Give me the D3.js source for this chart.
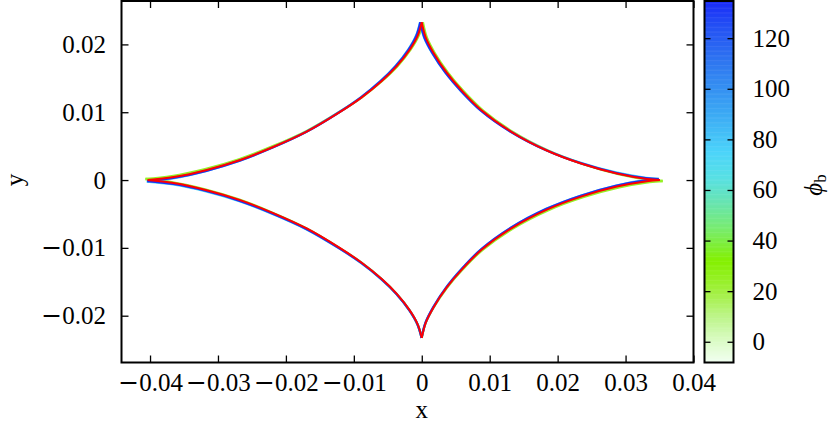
<!DOCTYPE html>
<html><head><meta charset="utf-8">
<script src="https://cdn.jsdelivr.net/npm/d3@7"></script>
<style>
body{margin:0;background:#fff}
text{font-family:"Liberation Serif","DejaVu Serif",serif;fill:#000}
</style>
</head><body>
<svg id="chart" width="830" height="422"></svg>
<script>
// ---------------- data ----------------
const xTicks = [-0.04,-0.03,-0.02,-0.01,0,0.01,0.02,0.03,0.04];
const yTicks = [-0.02,-0.01,0,0.01,0.02];
const cbTicks = [0,20,40,60,80,100,120];
const xDomain = [-0.0442, 0.0400];
const yDomain = [-0.0269, 0.0264];
const cbDomain = [-8.2, 134.7];
const paletteValues = [-8.2, 0, 10, 20, 32, 45, 55, 65, 75, 90, 110, 125, 134.7];
const paletteColors = ["#f2fff2","#dcfcc8","#bdf58a","#a2f040","#84f000","#78ec70","#68e4b0","#58e0e4","#4cd4fa","#3caaf4","#2f78f0","#2450f4","#1a2cf8"];
// caustic loop: left cusp -> top cusp -> right cusp -> bottom cusp -> left cusp
const cuspIndex = [0, 12, 23, 34, 46];
const seriesPhi = [25, 70, 134];
const causticPhi25 = [[-0.04068,0.00015],[-0.03681,0.00058],[-0.03190,0.00161],[-0.02692,0.00306],[-0.02200,0.00495],[-0.01701,0.00720],[-0.01209,0.01006],[-0.00881,0.01222],[-0.00583,0.01462],[-0.00358,0.01680],[-0.00165,0.01923],[-0.00045,0.02130],[0.00016,0.02327],
 [0.00074,0.02102],[0.00193,0.01869],[0.00385,0.01582],[0.00607,0.01318],[0.00904,0.01022],[0.01348,0.00703],[0.01868,0.00429],[0.02387,0.00231],[0.02908,0.00085],[0.03354,0.00004],[0.03547,-0.00013],
 [0.03354,-0.00028],[0.02907,-0.00107],[0.02386,-0.00249],[0.01865,-0.00443],[0.01343,-0.00713],[0.00896,-0.01028],[0.00597,-0.01322],[0.00373,-0.01584],[0.00179,-0.01871],[0.00059,-0.02102],[-0.00002,-0.02327],
 [-0.00061,-0.02130],[-0.00179,-0.01921],[-0.00371,-0.01678],[-0.00593,-0.01458],[-0.00890,-0.01216],[-0.01217,-0.00997],[-0.01707,-0.00708],[-0.02204,-0.00479],[-0.02694,-0.00286],[-0.03191,-0.00137],[-0.03682,-0.00030],[-0.04068,0.00015]];
const causticPhi70 = [[-0.04048,-0.00021],[-0.03665,0.00025],[-0.03180,0.00133],[-0.02688,0.00282],[-0.02203,0.00476],[-0.01711,0.00705],[-0.01226,0.00995],[-0.00903,0.01214],[-0.00610,0.01457],[-0.00390,0.01677],[-0.00200,0.01921],[-0.00083,0.02130],[-0.00025,0.02327],
 [0.00035,0.02102],[0.00154,0.01871],[0.00347,0.01585],[0.00569,0.01323],[0.00866,0.01030],[0.01308,0.00715],[0.01826,0.00446],[0.02342,0.00252],[0.02858,0.00111],[0.03301,0.00033],[0.03492,0.00018],
 [0.03301,0.00001],[0.02860,-0.00081],[0.02344,-0.00228],[0.01830,-0.00426],[0.01316,-0.00701],[0.00876,-0.01020],[0.00583,-0.01317],[0.00363,-0.01581],[0.00174,-0.01869],[0.00057,-0.02102],[-0.00001,-0.02327],
 [-0.00061,-0.02130],[-0.00180,-0.01923],[-0.00372,-0.01681],[-0.00594,-0.01463],[-0.00891,-0.01224],[-0.01216,-0.01007],[-0.01703,-0.00723],[-0.02198,-0.00498],[-0.02685,-0.00310],[-0.03178,-0.00165],[-0.03665,-0.00063],[-0.04048,-0.00021]];
const causticPhi134 = [[-0.04039,-0.00015],[-0.03657,0.00031],[-0.03172,0.00137],[-0.02681,0.00286],[-0.02196,0.00479],[-0.01705,0.00708],[-0.01221,0.00997],[-0.00899,0.01216],[-0.00605,0.01458],[-0.00385,0.01678],[-0.00196,0.01921],[-0.00079,0.02130],[-0.00021,0.02327],
 [0.00039,0.02102],[0.00158,0.01871],[0.00349,0.01584],[0.00571,0.01322],[0.00866,0.01028],[0.01308,0.00713],[0.01824,0.00443],[0.02338,0.00249],[0.02854,0.00107],[0.03295,0.00028],[0.03486,0.00013],
 [0.03295,-0.00004],[0.02855,-0.00085],[0.02340,-0.00231],[0.01827,-0.00429],[0.01313,-0.00703],[0.00874,-0.01022],[0.00581,-0.01318],[0.00361,-0.01582],[0.00172,-0.01869],[0.00055,-0.02102],[-0.00003,-0.02327],
 [-0.00063,-0.02130],[-0.00182,-0.01923],[-0.00373,-0.01680],[-0.00594,-0.01462],[-0.00890,-0.01222],[-0.01214,-0.01005],[-0.01700,-0.00720],[-0.02193,-0.00495],[-0.02679,-0.00306],[-0.03171,-0.00161],[-0.03657,-0.00058],[-0.04039,-0.00015]];
const causticReference = [[-0.04035,0],[-0.03652,0.00044],[-0.03166,0.00149],[-0.02673,0.00296],[-0.02187,0.00487],[-0.01694,0.00714],[-0.01208,0.01001],[-0.00884,0.01219],[-0.00589,0.01460],[-0.00368,0.01679],[-0.00177,0.01922],[-0.00059,0.02130],[0,0.02327],
 [0.00059,0.02102],[0.00177,0.01870],[0.00368,0.01583],[0.00589,0.01320],[0.00884,0.01025],[0.01325,0.00708],[0.01841,0.00436],[0.02356,0.00240],[0.02872,0.00096],[0.03314,0.00016],[0.03505,0],
 [0.03314,-0.00016],[0.02872,-0.00096],[0.02356,-0.00240],[0.01841,-0.00436],[0.01325,-0.00708],[0.00884,-0.01025],[0.00589,-0.01320],[0.00368,-0.01583],[0.00177,-0.01870],[0.00059,-0.02102],[0,-0.02327],
 [-0.00059,-0.02130],[-0.00177,-0.01922],[-0.00368,-0.01679],[-0.00589,-0.01460],[-0.00884,-0.01219],[-0.01208,-0.01001],[-0.01694,-0.00714],[-0.02187,-0.00487],[-0.02673,-0.00296],[-0.03166,-0.00149],[-0.03652,-0.00044],[-0.04035,0]];

// ---------------- layout ----------------
const FS = 25;
const plot = {left:121.5, right:693.5, top:1, bottom:362.5};
const cb = {left:704.5, right:733.5};
const svg = d3.select("#chart");

const x = d3.scaleLinear().domain(xDomain).range([plot.left, plot.right]);
const y = d3.scaleLinear().domain(yDomain).range([plot.bottom, plot.top]);
const cbY = d3.scaleLinear().domain(cbDomain).range([plot.bottom, plot.top]);
const color = d3.scaleLinear().domain(paletteValues).range(paletteColors).interpolate(d3.interpolateRgb);

// tick label with a wide (TeX-like) minus sign
function writeLabel(sel){
  sel.each(function(d){
    const t = d3.select(this).text("");
    if (d < 0) t.append("tspan").attr("font-family","DejaVu Serif").text("\u2212");
    t.append("tspan").text(d === 0 ? "0" : Math.abs(d).toFixed(2));
  });
}

svg.append("defs").append("clipPath").attr("id","clip").append("rect")
  .attr("x",plot.left).attr("y",plot.top).attr("width",plot.right-plot.left).attr("height",plot.bottom-plot.top);

// curves
const line = d3.line().x(d=>x(d[0])).y(d=>y(d[1])).curve(d3.curveCatmullRom.alpha(0.5));
const series = [
  {pts:causticPhi25, col:color(seriesPhi[0]), w:2.4},
  {pts:causticPhi70, col:color(seriesPhi[1]), w:2.4},
  {pts:causticPhi134, col:color(seriesPhi[2]), w:2.3},
  {pts:causticReference, col:"#ff0000", w:2.0}
];
const gCurves = svg.append("g").attr("clip-path","url(#clip)");
series.forEach(s => {
  for (let i = 0; i < cuspIndex.length-1; i++) {
    gCurves.append("path")
      .attr("d", line(s.pts.slice(cuspIndex[i], cuspIndex[i+1]+1)))
      .attr("fill","none").attr("stroke", s.col).attr("stroke-width", s.w)
      .attr("stroke-linecap","butt").attr("stroke-linejoin","round");
  }
});

// axes (ticks inward, mirrored)
const TL = 7;
function styleAxis(g){ g.select(".domain").remove(); g.selectAll(".tick line").attr("stroke","#000").attr("stroke-width",1.3); }
svg.append("g").attr("transform",`translate(0,${plot.bottom})`)
  .call(d3.axisBottom(x).tickValues(xTicks).tickSize(-TL))
  .call(styleAxis).call(g=>g.selectAll("text").attr("font-size",FS).attr("font-family",null).attr("y",28.5).attr("dy",0).call(writeLabel));
svg.append("g").attr("transform",`translate(0,${plot.top})`)
  .call(d3.axisTop(x).tickValues(xTicks).tickSize(-TL).tickFormat(""))
  .call(styleAxis);
svg.append("g").attr("transform",`translate(${plot.left},0)`)
  .call(d3.axisLeft(y).tickValues(yTicks).tickSize(-TL).tickPadding(15.5))
  .call(styleAxis).call(g=>g.selectAll("text").attr("font-size",FS).attr("font-family",null).call(writeLabel));
svg.append("g").attr("transform",`translate(${plot.right},0)`)
  .call(d3.axisRight(y).tickValues(yTicks).tickSize(-TL).tickFormat(""))
  .call(styleAxis);

svg.append("rect").attr("x",plot.left).attr("y",plot.top).attr("width",plot.right-plot.left).attr("height",plot.bottom-plot.top)
  .attr("fill","none").attr("stroke","#000").attr("stroke-width",2);

// axis titles
svg.append("text").attr("x",x(0)).attr("y",418).attr("text-anchor","middle").attr("font-size",FS).text("x");
svg.append("text").attr("transform",`translate(23,${y(0)}) rotate(-90)`).attr("text-anchor","middle").attr("font-size",FS).text("y");

// colorbar
const steps = d3.range(cbDomain[0], cbDomain[1], 0.5);
svg.append("g").selectAll("rect").data(steps).join("rect")
  .attr("x",cb.left).attr("width",cb.right-cb.left)
  .attr("y",d=>cbY(Math.min(d+0.5,cbDomain[1]))).attr("height",d=>cbY(d)-cbY(Math.min(d+0.5,cbDomain[1]))+0.5)
  .attr("fill",d=>color(d+0.25));
svg.append("g").attr("transform",`translate(${cb.right},0)`)
  .call(d3.axisRight(cbY).tickValues(cbTicks).tickSize(-6).tickPadding(19))
  .call(styleAxis).call(g=>g.selectAll("text").attr("font-size",FS).attr("font-family",null));
svg.append("g").attr("transform",`translate(${cb.left},0)`)
  .call(d3.axisLeft(cbY).tickValues(cbTicks).tickSize(-6).tickFormat(""))
  .call(styleAxis);
svg.append("rect").attr("x",cb.left).attr("y",plot.top).attr("width",cb.right-cb.left).attr("height",plot.bottom-plot.top)
  .attr("fill","none").attr("stroke","#000").attr("stroke-width",2);

const cbLabel = svg.append("text").attr("transform",`translate(822,${cbY(62)}) rotate(-90)`).attr("text-anchor","middle").attr("font-size",FS);
cbLabel.append("tspan").attr("font-style","italic").text("\u03D5");
cbLabel.append("tspan").attr("font-size",17).attr("dy",4).text("b");
</script>
</body></html>
